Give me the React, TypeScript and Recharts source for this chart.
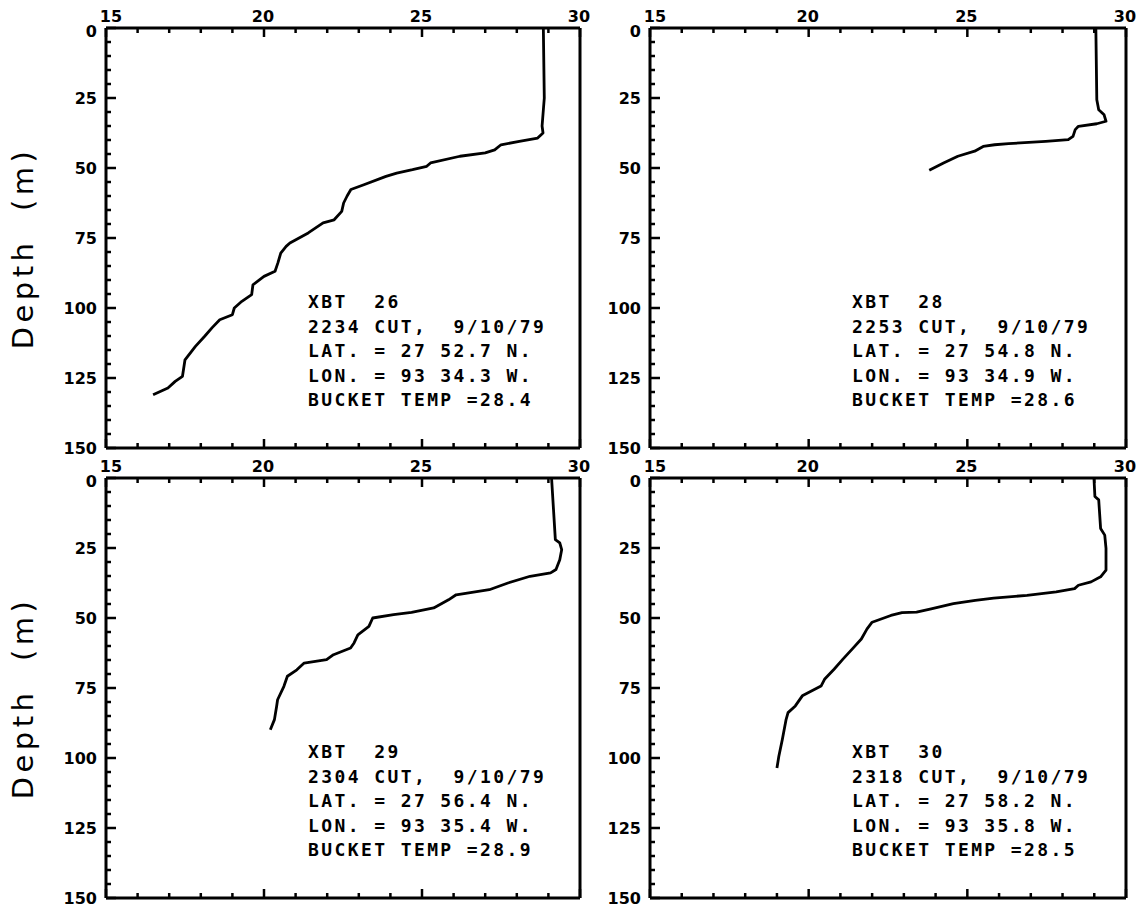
import React from "react";
import { LineChart, Line, XAxis, YAxis } from "recharts";

// axis ticks (temperature on top, depth down the side)
const tempTicks = [15, 16, 17, 18, 19, 20, 21, 22, 23, 24, 25, 26, 27, 28, 29, 30];
const depthTicks = [
  0, 5, 10, 15, 20, 25, 30, 35, 40, 45, 50, 55, 60, 65, 70, 75, 80, 85, 90, 95,
  100, 105, 110, 115, 120, 125, 130, 135, 140, 145, 150,
];

// XBT 26
const xbt26Depth = [
  0, 25, 35, 37.5, 39.3, 40.5, 41.7, 43.5, 44.6, 45.8, 48.2, 49.4, 50.6, 51.8, 53, 56, 57.7, 60,
  62.5, 65.5, 68.5, 69.6, 73.2, 76.8, 78, 80.4, 83.9, 86.9, 88.7, 91.7, 95.2, 97.6, 100, 102.4,
  104.2, 107, 110, 113.7, 118.5, 124.4, 126.2, 128.6, 131,
];
const xbt26Temp = [
  28.84, 28.87, 28.8, 28.83, 28.66, 28.08, 27.5, 27.3, 27.0, 26.2, 25.27, 25.15, 24.7, 24.2,
  23.86, 23.16, 22.75, 22.63, 22.52, 22.46, 22.22, 21.87, 21.4, 20.82, 20.7, 20.53, 20.44, 20.35,
  20.0, 19.65, 19.61, 19.3, 19.06, 19.0, 18.6, 18.36, 18.13, 17.83, 17.5, 17.42, 17.19, 16.96,
  16.49,
];

// XBT 28
const xbt28Depth = [0, 25.6, 29.2, 31, 33.3, 34.2, 35.1, 36.3, 38.7, 39.9, 40.5, 41.3, 41.7, 42.3, 44, 45.8, 48.2, 50.8];
const xbt28Temp = [
  29.05, 29.08, 29.14, 29.31, 29.37, 29.08, 28.5, 28.4, 28.33, 28.18, 27.47, 26.3, 25.86, 25.5,
  25.23, 24.7, 24.25, 23.8,
];

// XBT 29
const xbt29Depth = [
  0, 22, 23.2, 25.6, 29.2, 32.7, 33.9, 35.1, 37.5, 39.9, 41.1, 41.7, 43.5, 46.4, 48, 48.8, 50, 53,
  56, 58.9, 60.7, 63.1, 64.9, 66.1, 68.5, 70.8, 74.4, 79.2, 81.5, 86.3, 89.9,
];
const xbt29Temp = [
  29.1, 29.22, 29.36, 29.42, 29.36, 29.24, 29.07, 28.42, 27.72, 27.13, 26.43, 26.08, 25.84, 25.37,
  24.67, 24.1, 23.44, 23.32, 22.97, 22.85, 22.74, 22.2, 21.98, 21.27, 21.04, 20.74, 20.63, 20.43,
  20.4, 20.33, 20.2,
];

// XBT 30
const xbt30Depth = [
  0, 6.6, 7.8, 18, 20.4, 25.1, 32.9, 35.3, 37.1, 38.3, 39.5, 40.7, 41.9, 42.9, 43.7, 44.9, 46.7,
  47.9, 48.1, 49.1, 51.5, 53.9, 57.5, 61.1, 64.7, 68.3, 71.9, 74.3, 77.8, 81.4, 83.8, 86.2, 93.4,
  99.4, 103.6,
];
const xbt30Temp = [
  28.99, 29.02, 29.14, 29.2, 29.33, 29.37, 29.37, 29.2, 28.9, 28.5, 28.38, 27.8, 26.88, 25.83,
  25.25, 24.56, 23.86, 23.4, 22.94, 22.59, 22.0, 21.84, 21.66, 21.37, 21.08, 20.8, 20.5, 20.39,
  19.8, 19.58, 19.35, 19.29, 19.17, 19.06, 19.0,
];

// station notes
const castNames = ["XBT  26", "XBT  28", "XBT  29", "XBT  30"];
const castTimes = ["2234 CUT,  9/10/79", "2253 CUT,  9/10/79", "2304 CUT,  9/10/79", "2318 CUT,  9/10/79"];
const castLats = ["LAT. = 27 52.7 N.", "LAT. = 27 54.8 N.", "LAT. = 27 56.4 N.", "LAT. = 27 58.2 N."];
const castLons = ["LON. = 93 34.3 W.", "LON. = 93 34.9 W.", "LON. = 93 35.4 W.", "LON. = 93 35.8 W."];
const bucketTemps = ["BUCKET TEMP =28.4", "BUCKET TEMP =28.6", "BUCKET TEMP =28.9", "BUCKET TEMP =28.5"];

const toRows = (temp: number[], depth: number[]) => depth.map((d, i) => ({ t: temp[i], d }));

const casts = [
  toRows(xbt26Temp, xbt26Depth),
  toRows(xbt28Temp, xbt28Depth),
  toRows(xbt29Temp, xbt29Depth),
  toRows(xbt30Temp, xbt30Depth),
];

const INK = "#000";
const tickFont: React.CSSProperties = {
  fontFamily: "DejaVu Sans",
  fontWeight: 700,
  fontSize: 16,
  fill: INK,
};

const TopTick = (props: any) => {
  const { x, y, payload } = props;
  const v = payload.value;
  const major = v % 5 === 0;
  // the first label sits just right of the corner, as in the plotter output
  const lx = v === 15 ? x + 5 : x - 1;
  return (
    <g>
      <line x1={x} x2={x} y1={y} y2={y + (major ? 9 : 5)} stroke={INK} strokeWidth={2.5} />
      {major && (
        <text x={lx} y={y - 6} textAnchor="middle" style={tickFont}>
          {v}
        </text>
      )}
    </g>
  );
};

const BottomTick = (props: any) => {
  const { x, y, payload } = props;
  const major = payload.value % 5 === 0;
  return <line x1={x} x2={x} y1={y} y2={y - (major ? 9 : 5)} stroke={INK} strokeWidth={2.5} />;
};

const LeftTick = (props: any) => {
  const { x, y, payload } = props;
  const v = payload.value;
  const major = v % 25 === 0;
  const ly = v === 0 ? y + 9 : y + 6;
  return (
    <g>
      <line x1={x} x2={x + (major ? 10 : 5)} y1={y} y2={y} stroke={INK} strokeWidth={2.5} />
      {major && (
        <text x={x - 9} y={ly} textAnchor="end" style={tickFont}>
          {v}
        </text>
      )}
    </g>
  );
};

const RightTick = (props: any) => {
  const { x, y, payload } = props;
  const major = payload.value % 25 === 0;
  return <line x1={x} x2={x - (major ? 10 : 5)} y1={y} y2={y} stroke={INK} strokeWidth={2.5} />;
};

const DepthLabel = (props: any) => {
  const vb = props.viewBox || { x: 105, y: 28 };
  const cx = vb.x - 72;
  const cy = vb.y + 220;
  return (
    <text
      x={cx}
      y={cy}
      transform={`rotate(-90 ${cx} ${cy})`}
      textAnchor="middle"
      style={{
        fontFamily: "DejaVu Sans",
        fontSize: 29,
        letterSpacing: 4.5,
        whiteSpace: "pre",
        fill: INK,
      }}
    >
      Depth  (m)
    </text>
  );
};

interface PanelProps {
  idx: number;
  left: number;
  top: number;
  width: number;
  height: number;
  margin: { top: number; right: number; bottom: number; left: number };
  showDepth: boolean;
}

// axes are given 1px of room so recharts draws them; the plot box starts right after
const Panel = ({ idx, left, top, width, height, margin, showDepth }: PanelProps) => {
  const axisLine = { stroke: INK, strokeWidth: 3 };
  const plotLeft = margin.left + 1;
  const plotTop = margin.top + 1;
  return (
    <div style={{ position: "absolute", left, top, width, height }}>
      <LineChart width={width} height={height} data={casts[idx]} margin={margin}>
        <XAxis
          xAxisId="top"
          orientation="top"
          dataKey="t"
          type="number"
          domain={[15, 30]}
          ticks={tempTicks}
          interval={0}
          height={1}
          tickSize={0}
          tickMargin={0}
          tickLine={false}
          axisLine={axisLine}
          tick={<TopTick />}
        />
        <XAxis
          xAxisId="bottom"
          orientation="bottom"
          dataKey="t"
          type="number"
          domain={[15, 30]}
          ticks={tempTicks}
          interval={0}
          height={1}
          tickSize={0}
          tickMargin={0}
          tickLine={false}
          axisLine={axisLine}
          tick={<BottomTick />}
        />
        <YAxis
          yAxisId="left"
          type="number"
          domain={[0, 150]}
          reversed
          ticks={depthTicks}
          interval={0}
          width={1}
          tickSize={0}
          tickMargin={0}
          tickLine={false}
          axisLine={axisLine}
          tick={<LeftTick />}
          label={showDepth ? (p: any) => <DepthLabel {...p} /> : undefined}
        />
        <YAxis
          yAxisId="right"
          orientation="right"
          type="number"
          domain={[0, 150]}
          reversed
          ticks={depthTicks}
          interval={0}
          width={1}
          tickSize={0}
          tickMargin={0}
          tickLine={false}
          axisLine={axisLine}
          tick={<RightTick />}
        />
        <Line
          xAxisId="top"
          yAxisId="left"
          dataKey="d"
          type="linear"
          stroke={INK}
          strokeWidth={2.8}
          strokeLinejoin="round"
          dot={false}
          activeDot={false}
          isAnimationActive={false}
        />
      </LineChart>
      <div
        style={{
          position: "absolute",
          left: plotLeft + 202,
          top: plotTop + 262,
          fontFamily: "DejaVu Sans Mono",
          fontWeight: 700,
          fontSize: 18,
          letterSpacing: 2.4,
          lineHeight: "24.5px",
          whiteSpace: "pre",
          color: INK,
        }}
      >
        <div>{castNames[idx]}</div>
        <div>{castTimes[idx]}</div>
        <div>{castLats[idx]}</div>
        <div>{castLons[idx]}</div>
        <div>{bucketTemps[idx]}</div>
      </div>
    </div>
  );
};

export default function App() {
  return (
    <div
      style={{
        position: "absolute",
        left: 0,
        top: 0,
        width: 1144,
        height: 911,
        background: "#fff",
        overflow: "hidden",
      }}
    >
      <Panel idx={0} left={0} top={0} width={600} height={470} margin={{ top: 27, right: 19, bottom: 21, left: 105 }} showDepth />
      <Panel idx={1} left={595} top={0} width={549} height={470} margin={{ top: 27, right: 17, bottom: 21, left: 54 }} showDepth={false} />
      <Panel idx={2} left={0} top={450} width={600} height={461} margin={{ top: 27, right: 19, bottom: 12, left: 105 }} showDepth />
      <Panel idx={3} left={595} top={450} width={549} height={461} margin={{ top: 27, right: 17, bottom: 12, left: 54 }} showDepth={false} />
    </div>
  );
}
